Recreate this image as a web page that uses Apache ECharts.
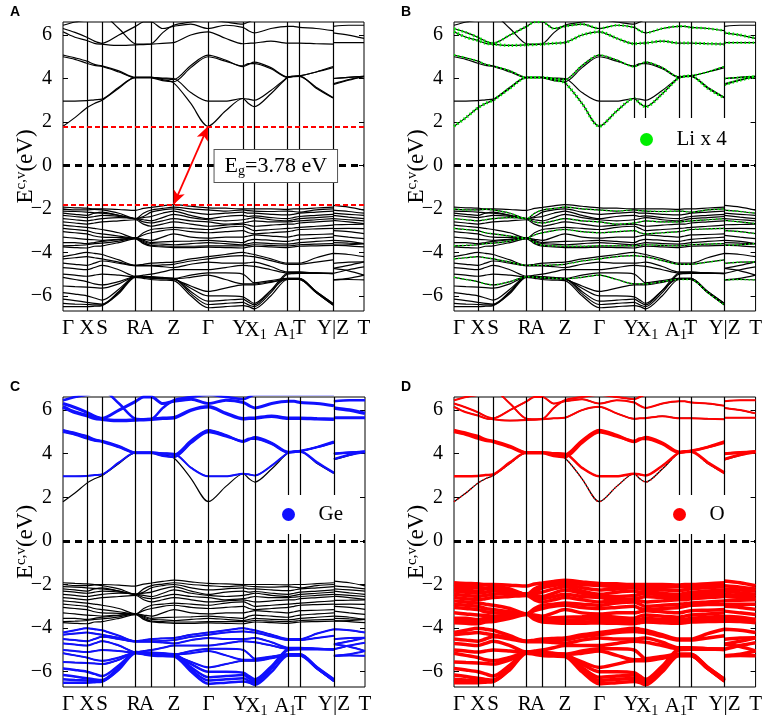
<!DOCTYPE html>
<html>
<head>
<meta charset="utf-8">
<script src="https://cdn.jsdelivr.net/npm/echarts@6/dist/echarts.min.js"></script>
<style>
html, body { margin: 0; padding: 0; background: #fff; }
#chart { width: 765px; height: 721px; }
</style>
</head>
<body>
<div id="chart"></div>
<script>
// k-path: high-symmetry points
var kTicks = [0, 23.8, 39, 72.5, 88.3, 110.6, 145, 179.8, 191.2, 224.5, 236.3, 270, 301];
var kLabels = ['{r5|Γ}', 'X', 'S', '{l2|R}', '{l5|A}', 'Z', 'Γ', '{l3|Y}', '{r2|X}{s|1}', 'A{sl|1}', 'T', 'Y|Z', 'T'];
// sampled k positions (points + segment middles), Y|Z jump is sampled twice
var kGrid = [0, 11.9, 23.8, 31.4, 39, 55.8, 72.5, 80.4, 88.3, 99.5, 110.6, 127.8, 145, 162.4,
  179.8, 185.5, 191.2, 207.9, 224.5, 230.4, 236.3, 253.2, 270, 270, 285.5, 301];
var yTicks = [-6, -4, -2, 0, 2, 4, 6];
var eCBM = 1.8, eVBM = -1.8, eGap = 3.78;

// conduction bands (eV)
var c1 = [1.8, 2.2, 2.65, 2.85, 3.0, 3.55, 4.05, 4.05, 4.05, 3.95, 3.8, 2.85, 1.8, 2.5, 3.08, 2.85, 2.7, 3.3, 4.05, 4.1, 4.12, 3.55, 3.1, 3.72, 3.92, 4.1];
var c2 = [2.96, 2.96, 2.98, 3.02, 3.05, 3.6, 4.05, 4.05, 4.05, 4.02, 4.0, 3.35, 2.96, 2.96, 3.08, 3.05, 3.0, 3.45, 4.05, 4.1, 4.12, 4.3, 4.5, 4.0, 4.05, 4.1];
var c3 = [5.08, 4.95, 4.8, 4.65, 4.58, 4.35, 4.05, 4.05, 4.05, 4.0, 3.95, 4.6, 5.08, 4.85, 4.55, 4.65, 4.75, 4.5, 4.08, 4.1, 4.12, 4.3, 4.55, 4.0, 4.05, 4.1];
var c4 = [5.0, 4.88, 4.7, 4.6, 4.55, 4.3, 4.03, 4.03, 4.03, 3.9, 3.85, 4.5, 5.0, 4.8, 4.58, 4.68, 4.68, 4.45, 4.05, 4.08, 4.1, 3.6, 3.12, 3.75, 3.95, 4.08];
var c5 = [6.15, 5.9, 5.75, 5.62, 5.58, 5.52, 5.55, 5.56, 5.58, 5.62, 5.65, 6.0, 6.15, 5.85, 5.6, 5.62, 5.63, 5.72, 5.63, 5.63, 5.63, 5.6, 5.58, 6.1, 6.0, 5.85];
var c6 = [6.3, 6.12, 5.9, 5.72, 5.62, 6.0, 6.4, 6.6, 6.6, 6.3, 6.4, 6.5, 6.3, 6.45, 6.35, 6.2, 6.1, 6.3, 6.4, 6.4, 6.35, 6.3, 6.2, 5.65, 5.65, 5.65];
var c7 = [6.45, 6.6, 6.7, 6.8, 6.9, 6.3, 5.6, 5.58, 5.6, 6.1, 6.45, 6.6, 6.7, 6.6, 6.5, 6.6, 6.7, 6.7, 6.7, 6.7, 6.7, 6.7, 6.7, 6.4, 6.45, 6.45];

// valence bands (eV)
var v1 = [-1.92, -1.95, -1.97, -2.0, -2.0, -2.03, -2.07, -1.98, -1.93, -1.86, -1.8, -1.88, -1.95, -1.97, -2.0, -2.0, -2.0, -2.0, -2.02, -2.0, -2.0, -1.96, -1.92, -1.84, -1.92, -2.06];
var v2 = [-2.0, -2.05, -2.05, -2.02, -2.05, -2.2, -2.45, -2.2, -2.05, -1.98, -1.92, -2.0, -2.05, -2.1, -2.05, -2.08, -2.1, -2.12, -2.1, -2.12, -2.15, -2.05, -2.0, -2.06, -2.12, -2.2];
var v3 = [-2.1, -2.12, -2.15, -2.18, -2.2, -2.3, -2.45, -2.35, -2.15, -2.05, -2.0, -2.15, -2.25, -2.2, -2.15, -2.2, -2.2, -2.25, -2.28, -2.25, -2.2, -2.15, -2.1, -2.2, -2.25, -2.3];
var v4 = [-2.2, -2.25, -2.3, -2.2, -2.15, -2.3, -2.45, -2.4, -2.35, -2.2, -2.1, -2.3, -2.45, -2.35, -2.3, -2.35, -2.32, -2.4, -2.45, -2.4, -2.35, -2.3, -2.25, -2.3, -2.38, -2.45];
var v5 = [-2.3, -2.35, -2.4, -2.35, -2.3, -2.35, -2.45, -2.5, -2.55, -2.4, -2.25, -2.4, -2.5, -2.55, -2.5, -2.45, -2.4, -2.5, -2.55, -2.5, -2.45, -2.4, -2.35, -2.45, -2.5, -2.55];
var v6 = [-2.45, -2.5, -2.55, -2.5, -2.45, -2.4, -2.45, -2.6, -2.65, -2.55, -2.45, -2.55, -2.6, -2.7, -2.65, -2.6, -2.55, -2.6, -2.6, -2.58, -2.55, -2.5, -2.45, -2.53, -2.6, -2.68];
var v7 = [-2.6, -2.65, -2.7, -2.65, -2.6, -2.55, -2.5, -2.7, -2.8, -2.7, -2.6, -2.7, -2.8, -2.75, -2.7, -2.75, -2.8, -2.75, -2.7, -2.7, -2.65, -2.6, -2.55, -2.73, -2.72, -2.7];
var v8 = [-2.75, -2.8, -2.85, -2.9, -2.95, -3.1, -3.35, -3.1, -2.95, -2.9, -2.85, -2.9, -2.95, -2.85, -2.8, -2.9, -3.0, -2.95, -2.9, -2.88, -2.85, -2.8, -2.75, -2.91, -2.9, -2.91];
var v9 = [-2.9, -2.95, -3.0, -3.1, -3.15, -3.25, -3.35, -3.2, -3.1, -3.0, -2.95, -3.05, -3.1, -3.05, -3.0, -3.1, -3.15, -3.1, -3.05, -3.0, -2.95, -2.92, -2.9, -3.0, -3.05, -3.14];
var v10 = [-3.05, -3.1, -3.15, -3.25, -3.3, -3.32, -3.35, -3.4, -3.45, -3.3, -3.15, -3.3, -3.35, -3.3, -3.3, -3.25, -3.2, -3.25, -3.3, -3.25, -3.2, -3.18, -3.15, -3.22, -3.3, -3.37];
var v11 = [-3.3, -3.35, -3.4, -3.42, -3.45, -3.4, -3.35, -3.45, -3.55, -3.52, -3.5, -3.48, -3.45, -3.5, -3.55, -3.45, -3.4, -3.45, -3.5, -3.45, -3.4, -3.35, -3.3, -3.45, -3.5, -3.6];
var v12 = [-3.55, -3.55, -3.6, -3.55, -3.5, -3.42, -3.35, -3.5, -3.6, -3.62, -3.65, -3.6, -3.55, -3.6, -3.65, -3.6, -3.55, -3.6, -3.62, -3.6, -3.55, -3.5, -3.45, -3.55, -3.58, -3.6];
var v13 = [-3.7, -3.68, -3.65, -3.6, -3.58, -3.48, -3.35, -3.55, -3.68, -3.7, -3.72, -3.72, -3.7, -3.7, -3.7, -3.68, -3.65, -3.68, -3.7, -3.68, -3.65, -3.62, -3.6, -3.67, -3.65, -3.6];
var v14 = [-3.75, -3.78, -3.8, -3.72, -3.7, -3.55, -3.38, -3.6, -3.72, -3.75, -3.78, -3.78, -3.76, -3.78, -3.8, -3.75, -3.72, -3.75, -3.78, -3.75, -3.72, -3.7, -3.68, -3.67, -3.7, -3.75];
var v15 = [-4.2, -4.1, -4.0, -4.05, -4.1, -4.35, -4.6, -4.55, -4.5, -4.47, -4.45, -4.3, -4.2, -4.1, -4.0, -4.05, -4.1, -4.3, -4.5, -4.5, -4.5, -4.25, -4.05, -4.05, -4.1, -4.2];
var v16 = [-4.3, -4.25, -4.2, -4.25, -4.3, -4.45, -4.6, -4.6, -4.6, -4.58, -4.55, -4.4, -4.3, -4.2, -4.15, -4.18, -4.2, -4.38, -4.55, -4.55, -4.55, -4.45, -4.35, -4.51, -4.45, -4.44];
var v17 = [-4.5, -4.55, -4.6, -4.5, -4.4, -4.5, -4.62, -4.62, -4.62, -4.66, -4.7, -4.55, -4.45, -4.5, -4.5, -4.48, -4.45, -4.65, -4.9, -4.9, -4.9, -4.95, -4.97, -4.74, -4.6, -4.44];
var v18 = [-4.7, -4.75, -4.8, -4.7, -4.6, -4.8, -5.1, -5.05, -5.0, -4.9, -4.8, -4.8, -4.8, -4.7, -4.6, -4.62, -4.65, -4.8, -4.95, -4.95, -4.95, -4.96, -4.98, -4.97, -4.8, -4.67];
var v19 = [-5.0, -5.05, -5.1, -5.05, -5.0, -5.05, -5.12, -5.12, -5.12, -5.15, -5.2, -5.05, -4.95, -4.95, -5.0, -5.2, -5.4, -5.3, -5.2, -5.2, -5.2, -5.8, -6.35, -4.74, -4.85, -5.05];
var v20 = [-5.15, -5.25, -5.35, -5.45, -5.5, -5.35, -5.12, -5.14, -5.16, -5.2, -5.22, -5.15, -5.05, -5.25, -5.45, -5.45, -5.45, -5.35, -5.25, -5.25, -5.25, -5.85, -6.43, -5.27, -5.25, -5.27];
var v21 = [-5.55, -5.58, -5.6, -5.62, -5.65, -5.45, -5.13, -5.16, -5.2, -5.22, -5.25, -5.55, -5.8, -5.65, -5.5, -5.5, -5.5, -5.38, -5.25, -5.25, -5.25, -5.85, -6.43, -5.27, -5.2, -5.05];
var v22 = [-5.85, -5.92, -6.0, -6.1, -6.2, -5.7, -5.12, -5.14, -5.16, -5.2, -5.22, -5.65, -6.0, -6.0, -6.05, -6.2, -6.35, -5.75, -5.2, -5.2, -5.2, -5.8, -6.35, -6.9, -6.9, -6.9];
var v23 = [-6.15, -6.22, -6.3, -6.35, -6.38, -5.8, -5.1, -5.12, -5.14, -5.18, -5.2, -5.8, -6.25, -6.2, -6.15, -6.3, -6.42, -5.75, -4.95, -4.93, -4.92, -4.95, -4.98, -6.9, -6.9, -6.9];
var v24 = [-6.35, -6.38, -6.4, -6.42, -6.42, -5.85, -5.1, -5.12, -5.14, -5.18, -5.2, -5.9, -6.4, -6.35, -6.3, -6.42, -6.5, -5.85, -5.0, -4.98, -4.97, -4.97, -4.97, -6.9, -6.9, -6.9];
var v25 = [-6.5, -6.5, -6.5, -6.48, -6.45, -5.9, -5.15, -5.2, -5.25, -5.28, -5.3, -6.0, -6.55, -6.5, -6.45, -6.5, -6.6, -6.0, -5.25, -5.25, -5.25, -5.85, -6.4, -6.9, -6.9, -6.9];

var bands = [c1, c2, c3, c4, c5, c6, c7, v1, v2, v3, v4, v5, v6, v7, v8, v9, v10, v11, v12, v13,
  v14, v15, v16, v17, v18, v19, v20, v21, v22, v23, v24, v25];

// projected weights per band (c1..c7, v1..v25)
var liWeight = [3, 0, 2, 0, 3, 2.5, 0,
  0, 1.5, 0, 0, 0, 1.5, 0, 0, 1.5, 0, 0, 0, 1.5, 0,
  0, 1.5, 0, 0, 0, 1.5, 0, 0, 0, 0, 0];
var geWeight = [0, 2, 2.5, 2.5, 3.5, 3, 2.5,
  0, 0, 0, 0, 0, 0, 0, 0, 0, 0, 0, 0, 0, 0,
  2, 2, 2, 2, 2, 2, 2, 2.5, 2.5, 2.5, 2.5];
var oWeight = [1.5, 2.5, 3, 3, 2, 2, 2,
  3.5, 3.5, 3.5, 3.5, 3.5, 3.5, 3.5, 3.5, 3.5, 3.5, 3.5, 3.5, 3.5, 3.5,
  3.5, 3.5, 3.5, 3.5, 3.5, 3.5, 3.5, 3.5, 3.5, 3.5, 3.5];

var serif = 'Liberation Serif';

var panels = [
  { letter: 'A', left: 63, top: 22, width: 301, height: 289 },
  { letter: 'B', left: 454, top: 22, width: 302, height: 289, name: 'Li x 4', color: '#00ee00', w: liWeight, dotted: true, lg: { left: 629, top: 118, padding: [11, 18, 11, 11] } },
  { letter: 'C', left: 63, top: 397, width: 302, height: 290, name: 'Ge', color: '#1010ff', w: geWeight, lg: { left: 271, top: 495, padding: [9, 14, 9, 11] } },
  { letter: 'D', left: 454, top: 397, width: 302, height: 290, name: 'O', color: '#ff0000', w: oWeight, lg: { left: 662, top: 495, padding: [9, 14, 9, 11] } }
];

function bandData(b) {
  var d = [];
  for (var i = 0; i < kGrid.length; i++) {
    if (i === 23) d.push([kGrid[i], '-']);
    d.push([kGrid[i], b[i]]);
  }
  return d;
}

function kLabel(value) {
  for (var i = 0; i < kTicks.length; i++) {
    if (Math.abs(kTicks[i] - value) < 0.01) return kLabels[i];
  }
  return '';
}

var labelRich = {
  s: { fontFamily: serif, fontSize: 14, color: '#000', verticalAlign: 'bottom', padding: [10, 0, 0, 0] },
  sl: { fontFamily: serif, fontSize: 14, color: '#000', verticalAlign: 'bottom', padding: [10, 6, 0, 0] },
  r5: { fontFamily: serif, fontSize: 21, color: '#000', padding: [0, 0, 0, 10] },
  r2: { fontFamily: serif, fontSize: 21, color: '#000', padding: [0, 0, 0, 3] },
  l2: { fontFamily: serif, fontSize: 21, color: '#000', padding: [0, 4, 0, 0] },
  l3: { fontFamily: serif, fontSize: 21, color: '#000', padding: [0, 6, 0, 0] },
  l5: { fontFamily: serif, fontSize: 21, color: '#000', padding: [0, 10, 0, 0] }
};

var grid = [], xAxis = [], yAxis = [], series = [], title = [], legend = [];

panels.forEach(function (p, i) {
  grid.push({ left: p.left, top: p.top, width: p.width, height: p.height, show: true, borderColor: '#000', borderWidth: 1 });
  title.push({ text: p.letter, left: p.left - 58, top: p.top - 22,
    textStyle: { fontFamily: 'Liberation Sans', fontWeight: 'bold', fontSize: 14, color: '#000' } });
  xAxis.push({
    gridIndex: i, type: 'value', min: 0, max: 301,
    axisLine: { show: false }, axisTick: { show: false }, splitLine: { show: false },
    axisLabel: {
      customValues: kTicks, formatter: kLabel, showMinLabel: true, showMaxLabel: true,
      fontFamily: serif, fontSize: 21, color: '#000', margin: 7, rich: labelRich
    }
  });
  yAxis.push({
    gridIndex: i, type: 'value', min: -6.7, max: 6.6,
    axisLine: { show: false }, splitLine: { show: false },
    axisTick: { inside: true, length: 5, customValues: yTicks, lineStyle: { color: '#000' } },
    axisLabel: {
      customValues: yTicks, fontFamily: serif, fontSize: 20, color: '#000', margin: 11,
      formatter: function (v) { return v < 0 ? '\u2212' + (-v) : String(v); }
    },
    name: 'E{sup|c,v}(eV)', nameLocation: 'middle', nameRotate: 90, nameGap: 25, nameMoveOverlap: false,
    nameTextStyle: { fontFamily: serif, fontSize: 23, color: '#000',
      rich: { sup: { fontFamily: serif, fontSize: 15, color: '#000', verticalAlign: 'top', padding: [0, 0, 9, 0] } } }
  });
  yAxis.push({
    gridIndex: i, type: 'value', position: 'right', min: -6.7, max: 6.6,
    axisLine: { show: false }, splitLine: { show: false }, axisLabel: { show: false },
    axisTick: { inside: true, length: 5, customValues: yTicks, lineStyle: { color: '#000' } }
  });

  // high-symmetry lines
  series.push({
    type: 'line', xAxisIndex: i, yAxisIndex: 2 * i, data: [], silent: true, z: 1,
    markLine: { silent: true, symbol: 'none', animation: false, label: { show: false },
      lineStyle: { color: '#000', width: 1.2, type: 'solid' },
      data: kTicks.slice(1, -1).map(function (k) { return { xAxis: k }; }) }
  });

  bands.forEach(function (b) {
    series.push({
      type: 'line', xAxisIndex: i, yAxisIndex: 2 * i, data: bandData(b), smooth: 0.3,
      showSymbol: false, symbol: 'none', silent: true, animation: false, z: 2,
      lineStyle: { color: '#000', width: 1.2 }
    });
  });

  if (p.w) {
    bands.forEach(function (b, j) {
      if (!p.w[j]) return;
      var dotted = p.dotted || p.w[j] < 2;
      series.push({
        type: 'line', xAxisIndex: i, yAxisIndex: 2 * i, data: bandData(b), smooth: 0.3,
        showSymbol: false, symbol: 'none', silent: true, animation: false, z: 3,
        lineStyle: { color: p.color, width: p.w[j], type: dotted ? [1.5, 2.5] : 'solid' }
      });
    });
    series.push({ type: 'scatter', name: p.name, xAxisIndex: i, yAxisIndex: 2 * i, data: [], itemStyle: { color: p.color, opacity: 1 } });
    legend.push({
      data: [p.name], left: p.lg.left, top: p.lg.top, padding: p.lg.padding, z: 10,
      backgroundColor: '#fff', selectedMode: false, icon: 'circle', itemWidth: 14, itemHeight: 13,
      itemStyle: { opacity: 1 },
      textStyle: { fontFamily: serif, fontSize: 21, color: '#000', padding: [0, 0, 0, 18] }
    });
  }

  // Fermi level reference
  series.push({
    type: 'line', xAxisIndex: i, yAxisIndex: 2 * i, data: [], silent: true, z: 4,
    markLine: { silent: true, symbol: 'none', animation: false, label: { show: false },
      lineStyle: { color: '#000', width: 3, type: [7, 5] }, data: [{ yAxis: 0 }] }
  });
});

// band-gap annotation in panel A
series.push({
  type: 'line', xAxisIndex: 0, yAxisIndex: 0, data: [], silent: true, z: 5,
  markLine: { silent: true, symbol: 'none', animation: false, label: { show: false },
    lineStyle: { color: '#ff0000', width: 2, type: [5, 3] },
    data: [{ yAxis: eCBM }, { yAxis: eVBM }] }
});
series.push({
  type: 'line', xAxisIndex: 0, yAxisIndex: 0, data: [], silent: true, z: 6,
  markLine: { silent: true, symbol: ['arrow', 'arrow'], symbolSize: [9, 14], animation: false, label: { show: false },
    lineStyle: { color: '#ff0000', width: 1.8, type: 'solid' },
    data: [[{ coord: [110.6, eVBM] }, { coord: [145, eCBM] }]] },
  markPoint: { symbol: 'rect', symbolSize: 1, animation: false, itemStyle: { color: 'rgba(0,0,0,0)' },
    label: { show: true, position: 'inside', formatter: 'E{g|g}=' + eGap + ' eV',
      backgroundColor: '#fff', borderColor: '#555', borderWidth: 1, padding: [4, 10, 4, 10],
      fontFamily: serif, fontSize: 22, color: '#000',
      rich: { g: { fontFamily: serif, fontSize: 14, color: '#000', verticalAlign: 'bottom', padding: [10, 0, 0, 0] } } },
    data: [{ coord: [212.8, -0.03] }] }
});

var chart = echarts.init(document.getElementById('chart'));
chart.setOption({
  animation: false,
  backgroundColor: '#fff',
  title: title, grid: grid, xAxis: xAxis, yAxis: yAxis, legend: legend, series: series
});
</script>
</body>
</html>
